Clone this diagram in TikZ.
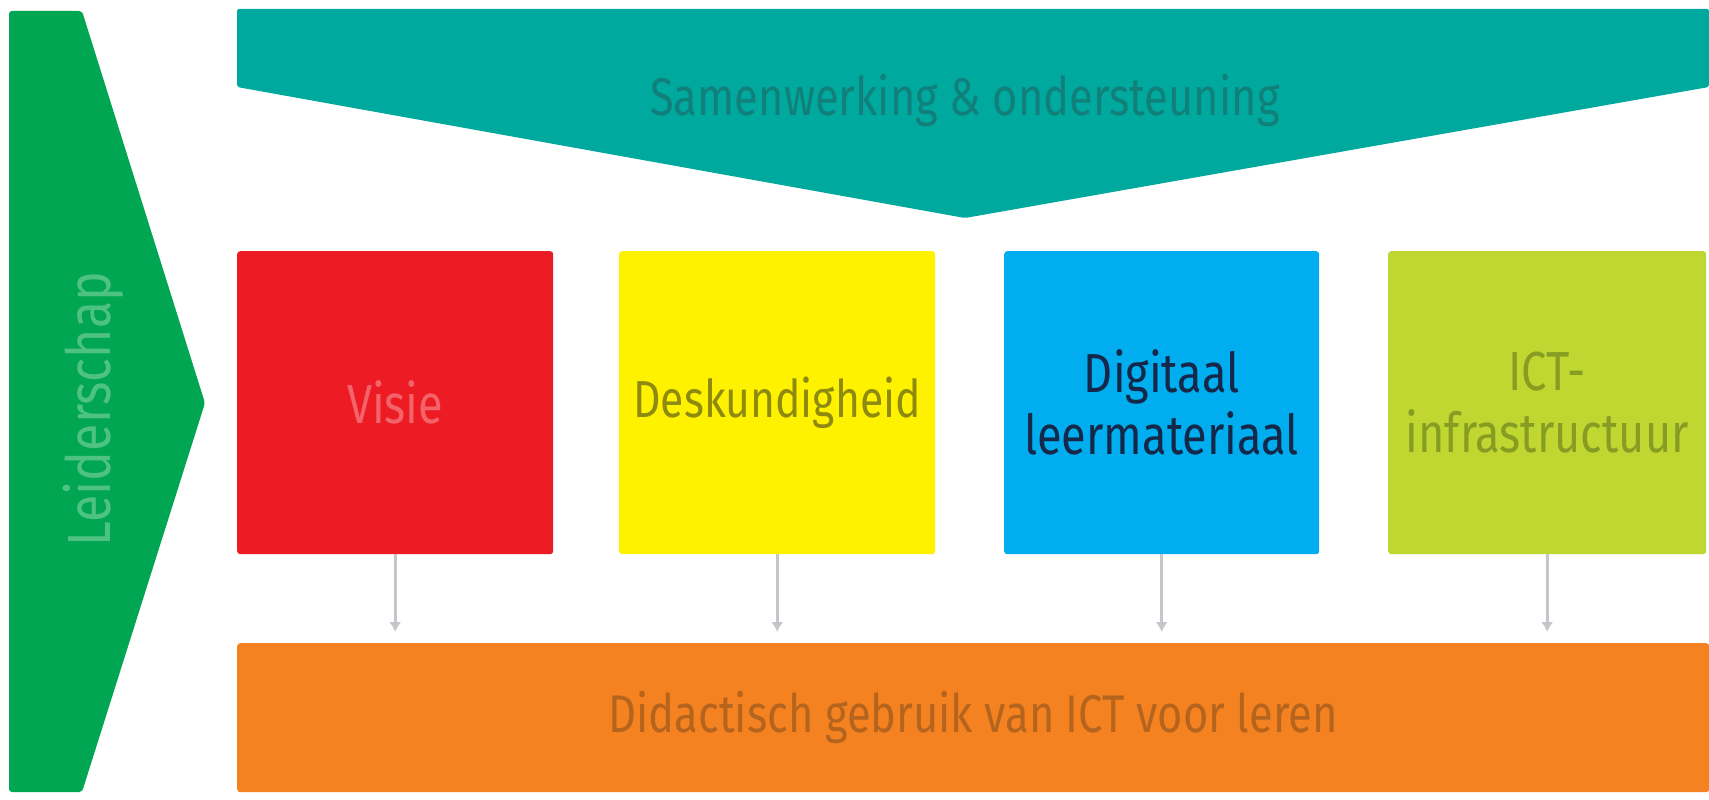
\documentclass[tikz,border=0pt]{standalone}
\usepackage{fontspec}
\setmainfont{Fira Sans}[FakeStretch=0.82]
\definecolor{cgreen}{HTML}{00A651}
\definecolor{cteal}{HTML}{00A99D}
\definecolor{cred}{HTML}{ED1C24}
\definecolor{cyellow}{HTML}{FFF200}
\definecolor{cblue}{HTML}{00AEEF}
\definecolor{clime}{HTML}{BFD730}
\definecolor{corange}{HTML}{F58220}
\definecolor{tgreen}{HTML}{4DC283}
\definecolor{tteal}{HTML}{11807A}
\definecolor{tred}{HTML}{F2646A}
\definecolor{tyellow}{HTML}{8E8A10}
\definecolor{tblue}{HTML}{15284A}
\definecolor{tlime}{HTML}{869C22}
\definecolor{torange}{HTML}{B5641E}
\definecolor{carrow}{HTML}{C4C6CC}
\tikzset{
  pillar/.style={minimum width=316pt, minimum height=303pt, anchor=north west,
    rounded corners=3pt, inner sep=0pt, align=center,
    font=\fontsize{55}{62}\selectfont},
  lbl/.style={font=\fontsize{53}{62}\selectfont, inner sep=0pt},
  link/.style={draw=carrow, line width=3pt, -{Latex[length=10pt,width=12pt]}}
}
\usetikzlibrary{arrows.meta}
\begin{document}
\begin{tikzpicture}[x=1pt,y=-1pt]
\useasboundingbox (0,0) rectangle (1709,800);
\fill[white] (0,0) rectangle (1709,800);
% Leiderschap arrow
\fill[cgreen, rounded corners=3pt] (9,11) -- (82,11) -- (205,403) -- (82,792) -- (9,792) -- cycle;
\node[lbl, text=tgreen, rotate=90, font=\fontsize{61}{62}\selectfont] (lead) at (93,409) {Leiderschap};
% Samenwerking banner
\fill[cteal, rounded corners=2pt] (237,9) -- (1709,9) -- (1709,87) -- (965,218) -- (237,87) -- cycle;
\node[lbl, text=tteal] (samen) at (965,100) {Samenwerking \& ondersteuning};
% pillars
\node[pillar, fill=cred, text=tred] (visie) at (237,251) {Visie};
\node[pillar, fill=cyellow, text=tyellow, font=\fontsize{52}{62}\selectfont] (desk) at (619,251) {Deskundigheid};
\node[pillar, fill=cblue, text=tblue, minimum width=315pt] (digi) at (1004,251) {Digitaal\\leermateriaal};
\node[pillar, fill=clime, text=tlime, minimum width=318pt] (ict) at (1388,251) {ICT-\\infrastructuur};
% Didactisch
\node[fill=corange, minimum width=1472pt, minimum height=149pt, anchor=north west,
  rounded corners=3pt, inner sep=0pt, text=torange, font=\fontsize{53}{62}\selectfont] (did) at (237,643) {Didactisch gebruik van ICT voor leren};
% connectors
\foreach \n in {visie,desk,digi,ict}{
  \draw[link] (\n.south) -- (\n.south |- 0,632);
}
\end{tikzpicture}
\end{document}
